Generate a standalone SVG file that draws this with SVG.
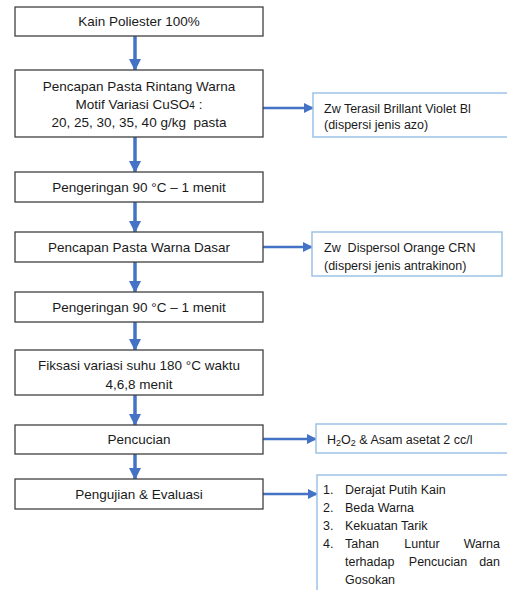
<svg xmlns="http://www.w3.org/2000/svg" width="507" height="590" viewBox="0 0 507 590">
<defs>
<style>
.box{fill:#fff;stroke:#404040;stroke-width:1.3}
.note{fill:#fff;stroke:#9DC3E6;stroke-width:1.5}
.t{font-family:"Liberation Sans",Arial,sans-serif;font-size:13.5px;fill:#1a1a1a;text-anchor:middle}
.n{font-family:"Liberation Sans",Arial,sans-serif;font-size:12.5px;fill:#1a1a1a}
.v{stroke:#4472C4;stroke-width:3.5;fill:none}
.h{stroke:#4472C4;stroke-width:2.5;fill:none}
</style>
<marker id="ah" markerWidth="10" markerHeight="10" refX="9" refY="5" orient="auto" markerUnits="userSpaceOnUse"><path d="M0,0 L10,5 L0,10 Z" fill="#4472C4"/></marker>
<marker id="av" markerWidth="12" markerHeight="12" refX="11" refY="6" orient="auto" markerUnits="userSpaceOnUse"><path d="M0,0 L12,6 L0,12 Z" fill="#4472C4"/></marker>
</defs>
<g id="connectors">
<line class="v" x1="135" y1="36" x2="135" y2="70" marker-end="url(#av)"/>
<line class="v" x1="135" y1="137" x2="135" y2="172" marker-end="url(#av)"/>
<line class="v" x1="135" y1="202" x2="135" y2="232" marker-end="url(#av)"/>
<line class="v" x1="135" y1="262" x2="135" y2="292" marker-end="url(#av)"/>
<line class="v" x1="135" y1="322" x2="135" y2="350" marker-end="url(#av)"/>
<line class="v" x1="135" y1="395" x2="135" y2="425" marker-end="url(#av)"/>
<line class="v" x1="135" y1="454" x2="135" y2="479" marker-end="url(#av)"/>
<line class="h" x1="263" y1="108" x2="313" y2="108" marker-end="url(#ah)"/>
<line class="h" x1="263" y1="247" x2="312" y2="247" marker-end="url(#ah)"/>
<line class="h" x1="263" y1="439" x2="316" y2="439" marker-end="url(#ah)"/>
<line class="h" x1="263" y1="494" x2="317" y2="494" marker-end="url(#ah)"/>
</g>
<g id="n1"><rect class="box" x="15" y="7" width="248" height="29"/><text class="t" x="139" y="26">Kain Poliester 100%</text></g>
<g id="n2"><rect class="box" x="15" y="70" width="248" height="67"/>
<text class="t" x="139" y="91">Pencapan Pasta Rintang Warna</text>
<text class="t" x="139" y="109">Motif Variasi CuSO<tspan font-size="10px">4</tspan> :</text>
<text class="t" x="139" y="127">20, 25, 30, 35, 40 g/kg &#160;pasta</text></g>
<g id="n3"><rect class="box" x="15" y="172" width="248" height="30"/><text class="t" x="139" y="192">Pengeringan 90 °C – 1 menit</text></g>
<g id="n4"><rect class="box" x="15" y="232" width="248" height="30"/><text class="t" x="139" y="252">Pencapan Pasta Warna Dasar</text></g>
<g id="n5"><rect class="box" x="15" y="292" width="248" height="30"/><text class="t" x="139" y="312">Pengeringan 90 °C – 1 menit</text></g>
<g id="n6"><rect class="box" x="15" y="350" width="248" height="45"/>
<text class="t" x="139" y="370">Fiksasi variasi suhu 180 °C waktu</text>
<text class="t" x="139" y="389">4,6,8 menit</text></g>
<g id="n7"><rect class="box" x="15" y="425" width="248" height="29"/><text class="t" x="139" y="444">Pencucian</text></g>
<g id="n8"><rect class="box" x="15" y="479" width="248" height="30"/><text class="t" x="139" y="499">Pengujian &amp; Evaluasi</text></g>
<g id="r1"><rect class="note" x="313" y="93" width="200" height="44"/>
<text class="n" x="324" y="113">Zw Terasil Brillant Violet Bl</text>
<text class="n" x="324" y="129">(dispersi jenis azo)</text></g>
<g id="r2"><rect class="note" x="312" y="232" width="190" height="44"/>
<text class="n" x="324" y="252">Zw &#160;Dispersol Orange CRN</text>
<text class="n" x="324" y="270">(dispersi jenis antrakinon)</text></g>
<g id="r3"><rect class="note" x="316" y="424" width="200" height="29"/>
<text class="n" x="327" y="444">H<tspan font-size="9px" baseline-shift="-2">2</tspan>O<tspan font-size="9px" baseline-shift="-2">2</tspan> &amp; Asam asetat 2 cc/l</text></g>
<g id="r4"><rect class="note" x="317" y="475" width="200" height="130"/>
<text class="n" x="323" y="494">1.</text><text class="n" x="345" y="494">Derajat Putih Kain</text>
<text class="n" x="323" y="512">2.</text><text class="n" x="345" y="512">Beda Warna</text>
<text class="n" x="323" y="530">3.</text><text class="n" x="345" y="530">Kekuatan Tarik</text>
<text class="n" x="323" y="548">4.</text><text class="n" x="345" y="548">Tahan</text><text class="n" x="422" y="548" text-anchor="middle">Luntur</text><text class="n" x="500" y="548" text-anchor="end">Warna</text>
<text class="n" x="345" y="566">terhadap</text><text class="n" x="438" y="566" text-anchor="middle">Pencucian</text><text class="n" x="500" y="566" text-anchor="end">dan</text>
<text class="n" x="345" y="584">Gosokan</text></g>
</svg>
